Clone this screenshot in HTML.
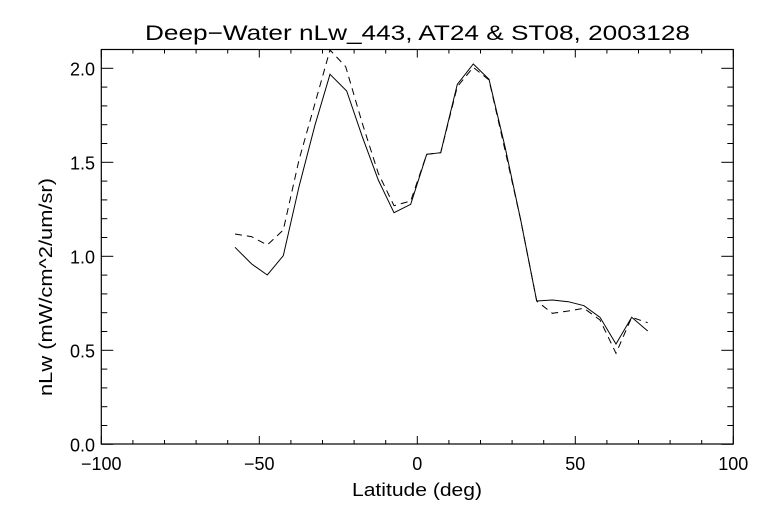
<!DOCTYPE html>
<html><head><style>
html,body{margin:0;padding:0;background:#fff;}
svg{display:block;font-family:"Liberation Sans",sans-serif;}
</style></head><body>
<svg id="s" width="768" height="512" viewBox="0 0 768 512" xmlns="http://www.w3.org/2000/svg">
<rect width="768" height="512" fill="#fff"/>
<text x="145" y="40" font-size="21" textLength="545" lengthAdjust="spacingAndGlyphs" fill="#000">Deep−Water nLw_443, AT24 &amp; ST08, 2003128</text>
<rect x="101.3" y="49.5" width="632" height="394.5" fill="none" stroke="#000" stroke-width="1.2"/>
<g id="ticks" stroke="#000" stroke-width="1"></g>
<g id="lbl" font-size="18" fill="#000"></g>
<text x="352" y="496" font-size="18" textLength="130" lengthAdjust="spacingAndGlyphs">Latitude (deg)</text>
<text transform="translate(52,396) rotate(-90)" font-size="18" textLength="218" lengthAdjust="spacingAndGlyphs">nLw (mW/cm^2/um/sr)</text>
<polyline id="sol" fill="none" stroke="#000" stroke-width="1"/>
<polyline id="das" fill="none" stroke="#000" stroke-width="1" stroke-dasharray="7,5"/>
</svg>
<script>
var NS="http://www.w3.org/2000/svg";
var tk=document.getElementById("ticks"),lb=document.getElementById("lbl");
function ln(x1,y1,x2,y2){var l=document.createElementNS(NS,"line");l.setAttribute("x1",x1);l.setAttribute("y1",y1);l.setAttribute("x2",x2);l.setAttribute("y2",y2);tk.appendChild(l);}
function tx(x,y,s,a){var t=document.createElementNS(NS,"text");t.setAttribute("x",x);t.setAttribute("y",y);t.setAttribute("text-anchor",a);t.textContent=s;lb.appendChild(t);}
var x0=101.3,xs=3.16,y0=444.3,ys=188;
for(var v=-100;v<=100;v+=10){var x=x0+(v+100)*xs;var L=(v%50==0)?8:4;ln(x,444,x,444-L);ln(x,49.5,x,49.5+L);if(v%50==0)tx(x,470,(v<0?"−":"")+Math.abs(v),"middle");}
for(var i=0;i<=20;i++){var y=y0-i*0.1*ys;var L=(i%5==0)?12:6;ln(101.3,y,101.3+L,y);ln(733.3,y,733.3-L,y);if(i%5==0)tx(95,y+7,(i/10).toFixed(1),"end");}
function P(a){return a.map(function(p){return (200+p[0]/3).toFixed(1)+","+(40+p[1]/3).toFixed(1);}).join(" ");}
document.getElementById("sol").setAttribute("points",P([[105,622],[155,672],[202,705],[250,647],[297,440],[345,255],[390,103],[440,153],[487,290],[535,420],[582,518],[632,493],[680,343],[722,338],[772,133],[820,72],[867,118],[915,320],[962,540],[1010,783],[1057,780],[1105,785],[1152,797],[1200,832],[1248,912],[1295,832],[1343,873]]));
document.getElementById("das").setAttribute("points",P([[105,582],[155,590],[202,615],[250,570],[297,360],[345,190],[390,30],[437,80],[487,250],[535,400],[582,497],[632,483],[680,343],[722,338],[772,140],[820,82],[867,120],[915,330],[962,540],[1010,783],[1057,820],[1105,813],[1152,805],[1200,840],[1248,940],[1295,832],[1343,848]]));
</script>
</body></html>
